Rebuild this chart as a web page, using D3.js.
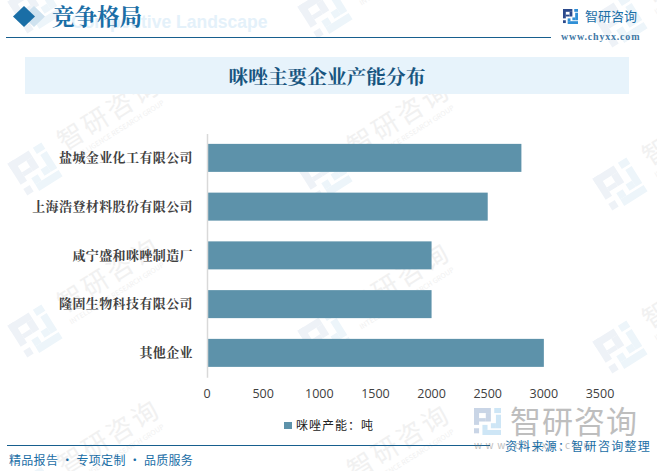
<!DOCTYPE html>
<html>
<head>
<meta charset="utf-8">
<script src="https://cdn.jsdelivr.net/npm/d3@7"></script>
<style>
html,body{margin:0;padding:0;background:#fff;}
svg{display:block;}
</style>
</head>
<body>
<div id="chart"></div>
<script>
const companies = ['盐城金业化工有限公司','上海浩登材料股份有限公司','咸宁盛和咪唑制造厂','隆固生物科技有限公司','其他企业'];
const capacity = [2800, 2500, 2000, 2000, 3000];
const xTicks = [0, 500, 1000, 1500, 2000, 2500, 3000, 3500];
const watermarkSpots = [[35,8],[35,170],[35,332],[35,494],[325,13],[325,175],[325,337],[325,499],[620,22],[620,185],[620,348]];

const width = 657, height = 471;
const serif = '"Noto Serif CJK SC","Liberation Serif","Noto Sans CJK SC",serif';
const sans = '"Noto Sans CJK SC","Noto Sans",sans-serif';

const svg = d3.select('#chart').append('svg')
  .attr('width', width)
  .attr('height', height);

// brand mark, built from blocks on a 16 unit grid
const darkBits = [[0,0,10,3],[0,0,3,10],[7,3,3,5],[3,6,4,2],[0,12,3,3]];
const lightBits = [[12,0,4,3],[13,4,3,8],[10,9,3,3],[5,13,11,3],[5,10,3,3]];
function logo(g, s, dark, light) {
  const u = s / 16;
  const draw = (bits, fill) => bits.forEach(b => g.append('rect')
    .attr('x', b[0]*u).attr('y', b[1]*u)
    .attr('width', b[2]*u).attr('height', b[3]*u).attr('fill', fill));
  draw(darkBits, dark);
  draw(lightBits, light);
}

// watermarks
const wm = svg.append('g');
watermarkSpots.forEach(p => {
  const g = wm.append('g').attr('transform', `translate(${p[0]},${p[1]}) rotate(-32)`);
  logo(g.append('g').attr('transform', 'translate(-20,-20)'), 40, '#eef2f7', '#edf5fa');
  g.append('text').attr('x', 35).attr('y', 0)
    .attr('font-family', sans).attr('font-size', 26).attr('fill', '#f1f1f1').attr('letter-spacing', 3)
    .text('智研咨询');
  g.append('text').attr('x', 35).attr('y', 13)
    .attr('font-family', sans).attr('font-size', 7).attr('fill', '#f1f1f1')
    .text('INTELLIGENCE RESEARCH GROUP');
});

// header
svg.append('text').attr('x', 71).attr('y', 28)
  .attr('font-family', '"Liberation Sans",Arial,sans-serif').attr('font-weight', 'bold')
  .attr('font-size', 17.5).attr('fill', '#e4f1fa')
  .text('Competitive Landscape');
svg.append('path').attr('d', 'M34 6 L45 16.5 L34 27 L23 16.5 Z').attr('fill', '#cfe2ef');
svg.append('path').attr('d', 'M24 6 L35 16.5 L24 27 L13 16.5 Z').attr('fill', '#1a6ea6');
svg.append('text').attr('x', 52).attr('y', 25)
  .attr('font-family', serif).attr('font-size', 22.5).attr('fill', '#1a6ea6').attr('font-weight', 'bold')
  .text('竞争格局');
svg.append('line').attr('x1', 6).attr('x2', 551).attr('y1', 37.5).attr('y2', 37.5)
  .attr('stroke', '#175f8e').attr('stroke-width', 1);

logo(svg.append('g').attr('transform', 'translate(563,9)'), 15, '#2b4a8c', '#2f8fd6');
svg.append('text').attr('x', 585).attr('y', 21)
  .attr('font-family', sans).attr('font-size', 13).attr('fill', '#1a6ea6')
  .text('智研咨询');
svg.append('text').attr('x', 561).attr('y', 40)
  .attr('font-family', '"Liberation Serif",serif').attr('font-weight', 'bold').attr('font-size', 10).attr('fill', '#3f78a5')
  .attr('letter-spacing', 0.8)
  .text('www.chyxx.com');

// title band
svg.append('rect').attr('x', 25).attr('y', 57).attr('width', 604).attr('height', 37).attr('fill', '#e7f3fb');
svg.append('text').attr('x', 327).attr('y', 84).attr('text-anchor', 'middle')
  .attr('font-family', serif).attr('font-weight', 'bold').attr('font-size', 19.7).attr('fill', '#17557f')
  .text('咪唑主要企业产能分布');

// chart
const x = d3.scaleLinear().domain([0, 3500]).range([207, 600]);
const y = d3.scaleBand().domain(companies).range([133.5, 377.25]).paddingInner(0.4256).paddingOuter(0.2128);

svg.append('g').selectAll('rect').data(companies).join('rect')
  .attr('x', x(0))
  .attr('y', d => y(d))
  .attr('width', (d, i) => x(capacity[i]) - x(0))
  .attr('height', y.bandwidth())
  .attr('fill', '#5d92aa');

const yAxis = d3.axisLeft(y).tickSize(0).tickPadding(14);
const yG = svg.append('g').attr('transform', `translate(${x(0)},0)`).call(yAxis);
yG.select('.domain').attr('stroke', '#d9d9d9').attr('stroke-width', 1.5);
yG.selectAll('text').attr('font-family', serif).attr('font-weight', 'bold')
  .attr('font-size', 13).attr('fill', '#404040').attr('letter-spacing', 0.4);

const xAxis = d3.axisBottom(x).tickValues(xTicks).tickSize(0).tickPadding(0).tickFormat(d3.format('d'));
const xG = svg.append('g').attr('transform', 'translate(-0.5,389)').call(xAxis);
xG.select('.domain').remove();
xG.selectAll('text').attr('font-family', '"Open Sans",sans-serif').attr('font-size', 12.5).attr('fill', '#404040');

// legend
svg.append('rect').attr('x', 284).attr('y', 422).attr('width', 8).attr('height', 7).attr('fill', '#5d92aa');
svg.append('text').attr('x', 296).attr('y', 430)
  .attr('font-family', sans).attr('font-size', 12).attr('fill', '#222').attr('letter-spacing', 1)
  .text('咪唑产能：吨');

// footer
svg.append('line').attr('x1', 7).attr('x2', 490).attr('y1', 445.5).attr('y2', 445.5)
  .attr('stroke', '#175f8e').attr('stroke-width', 1);

const fm = svg.append('g').attr('opacity', 0.42);
logo(fm.append('g').attr('transform', 'translate(474,408)'), 27, '#7f9cc4', '#8cc4ea');
fm.append('text').attr('x', 510).attr('y', 433)
  .attr('font-family', sans).attr('font-size', 31).attr('fill', '#666').attr('letter-spacing', 1)
  .text('智研咨询');
fm.append('text').attr('x', 474).attr('y', 449)
  .attr('font-family', sans).attr('font-size', 10).attr('fill', '#666').attr('letter-spacing', 3.6)
  .text('www.chyxx.com');

svg.append('text').attr('x', 505).attr('y', 451)
  .attr('font-family', sans).attr('font-size', 12).attr('fill', '#1a6ea6').attr('letter-spacing', 1.27)
  .text('资料来源：智研咨询整理');
svg.append('text').attr('x', 9).attr('y', 465)
  .attr('font-family', sans).attr('font-size', 12).attr('fill', '#1a6ea6').attr('letter-spacing', 0.3)
  .text('精品报告 · 专项定制 · 品质服务');
</script>
</body>
</html>
